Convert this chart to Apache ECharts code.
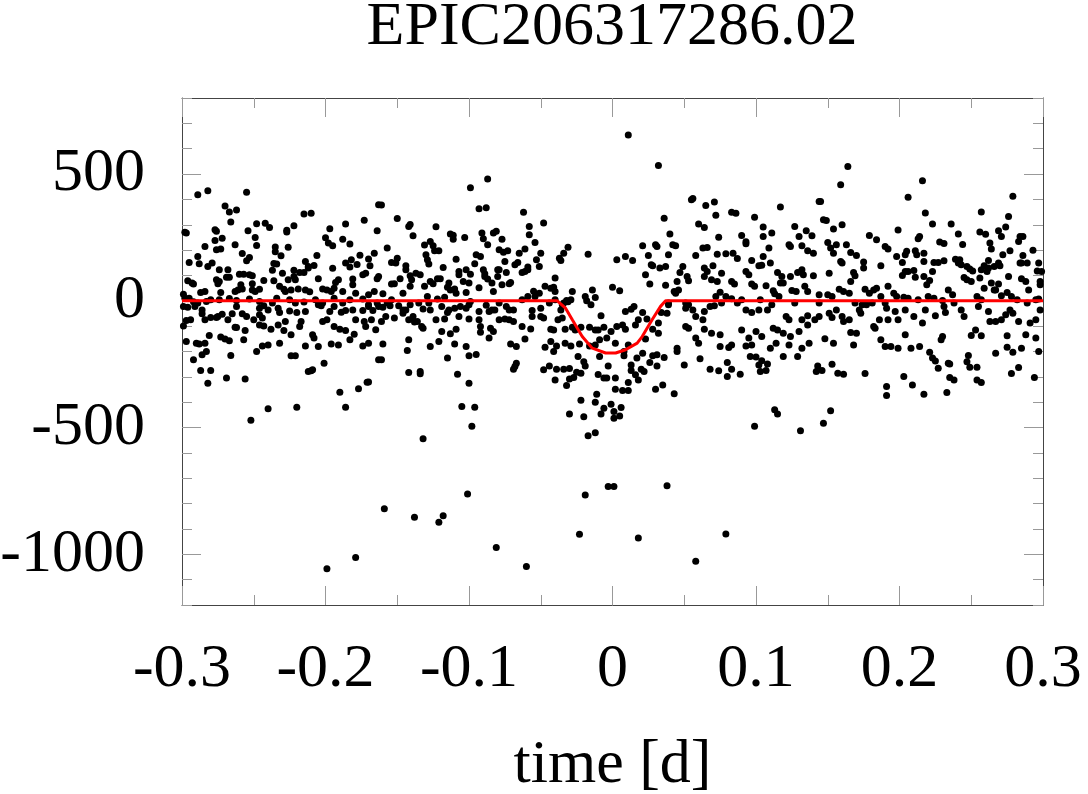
<!DOCTYPE html>
<html>
<head>
<meta charset="utf-8">
<script src="https://cdn.jsdelivr.net/npm/echarts@6/dist/echarts.min.js"></script>
<style>
  html, body { margin: 0; padding: 0; background: #fff; }
  #main { width: 1088px; height: 794px; }
</style>
</head>
<body>
<div id="main"></div>
<script>
// photometry points [time (d), flux], grouped by time range
var obsA = [
  [-0.289,418],[-0.282,434],[-0.255,428],[-0.270,374],[-0.267,350],[-0.262,358],[-0.266,311],[-0.248,304],[-0.242,306],[-0.239,289],[-0.222,296],[-0.215,342],[-0.210,345],[-0.298,270],[-0.297,267],[-0.277,280],[-0.276,274],[-0.254,276],[-0.249,250],[-0.227,278],[-0.227,271],[-0.197,284],[-0.186,303],[-0.173,318],[-0.164,276],[-0.163,379],
  [-0.272,247],[-0.277,238],[-0.284,214],[-0.263,221],[-0.248,218],[-0.235,212],[-0.226,211],[-0.235,193],[-0.231,178],[-0.276,201],[-0.273,204],[-0.258,187],[-0.253,171],[-0.255,158],[-0.289,175],[-0.295,151],[-0.288,146],[-0.282,135],[-0.279,149],[-0.200,249],[-0.198,228],[-0.195,217],[-0.188,243],[-0.183,224],[-0.206,179],[-0.214,155],[-0.212,135],[-0.208,139],[-0.236,147],[-0.234,145],[-0.237,121],[-0.230,109],[-0.222,121],[-0.195,128],[-0.186,149],[-0.183,133],[-0.182,162],[-0.178,143],[-0.176,180],[-0.170,165],[-0.169,138],[-0.166,188],[-0.164,87],
  [-0.274,122],[-0.268,122],[-0.260,105],[-0.257,105],[-0.253,103],[-0.251,99],[-0.269,93],[-0.267,93],[-0.276,83],[-0.274,76],[-0.275,67],[-0.296,79],[-0.293,70],[-0.292,66],[-0.259,63],[-0.251,67],[-0.251,43],[-0.249,37],[-0.243,80],[-0.236,79],[-0.229,46],[-0.226,83],[-0.222,96],[-0.221,83],[-0.218,112],[-0.215,112],[-0.212,129],[-0.205,87],[-0.202,47],[-0.199,43],[-0.196,37],[-0.194,50],[-0.193,72],[-0.191,83],[-0.181,86],[-0.181,63],[-0.174,103],[-0.172,109],[-0.163,96],[-0.287,33],[-0.284,37],[-0.273,33],[-0.263,37],[-0.261,43],[-0.258,47],[-0.246,46],[-0.232,57],[-0.228,37],[-0.224,43],[-0.219,47],[-0.214,43],[-0.211,36],[-0.188,37],[-0.179,30],[-0.170,24],[-0.166,37],[-0.299,26],
  [-0.298,10],[-0.295,10],[-0.292,-4],[-0.289,-9],[-0.283,-3],[-0.280,4],[-0.274,4],[-0.267,9],[-0.262,1],[-0.253,7],[-0.246,-3],[-0.237,-9],[-0.234,10],[-0.225,4],[-0.221,-9],[-0.215,-5],[-0.207,4],[-0.202,-9],[-0.194,10],[-0.188,-9],[-0.183,4],[-0.174,7],[-0.170,-16],[-0.164,-9],
  [-0.299,-22],[-0.296,-25],[-0.291,-22],[-0.286,-36],[-0.286,-51],[-0.280,-66],[-0.275,-62],[-0.272,-53],[-0.265,-51],[-0.262,-22],[-0.258,-51],[-0.255,-62],[-0.246,-29],[-0.243,-20],[-0.246,-55],[-0.244,-68],[-0.240,-36],[-0.233,-29],[-0.232,-46],[-0.225,-40],[-0.220,-46],[-0.214,-42],[-0.205,-16],[-0.203,-20],[-0.197,-42],[-0.194,-22],[-0.189,-45],[-0.186,-38],[-0.181,-36],[-0.174,-38],[-0.170,-22],[-0.167,-38],[-0.163,-22],
  [-0.297,-78],[-0.294,-75],[-0.299,-99],[-0.284,-75],[-0.276,-66],[-0.268,-75],[-0.263,-104],[-0.262,-105],[-0.256,-117],[-0.250,-75],[-0.246,-95],[-0.243,-99],[-0.238,-112],[-0.233,-95],[-0.228,-82],[-0.229,-117],[-0.224,-134],[-0.218,-101],[-0.217,-82],[-0.209,-134],[-0.208,-147],[-0.202,-82],[-0.199,-75],[-0.194,-101],[-0.190,-112],[-0.186,-117],[-0.180,-132],[-0.179,-75],[-0.173,-82],[-0.172,-101],[-0.168,-75],[-0.165,-114],
  [-0.297,-161],[-0.290,-167],[-0.288,-170],[-0.284,-167],[-0.281,-137],[-0.273,-143],[-0.270,-151],[-0.267,-158],[-0.257,-154],[-0.244,-178],[-0.240,-174],[-0.232,-167],[-0.214,-178],[-0.205,-180],[-0.196,-170],[-0.191,-174],[-0.183,-154],[-0.174,-178],[-0.170,-167],
  [-0.286,-213],[-0.283,-200],[-0.292,-233],[-0.287,-275],[-0.280,-275],[-0.282,-325],[-0.269,-305],[-0.266,-216],[-0.256,-308],[-0.248,-200],[-0.224,-217],[-0.221,-217],[-0.210,-276],[-0.209,-272],[-0.212,-279],[-0.201,-246],[-0.190,-361],[-0.186,-420],[-0.177,-347],[-0.171,-321],[-0.163,-233],[-0.240,-426],[-0.220,-420],[-0.252,-471],[-0.199,-1057],[-0.179,-1013]
];

var obsB = [
  [-0.087,480],[-0.099,446],[-0.093,363],[-0.088,367],[-0.161,378],[-0.062,349],[-0.150,325],[-0.142,293],[-0.141,301],[-0.139,257],[-0.123,292],[-0.048,307],[-0.058,293],[-0.058,261],[-0.113,264],[-0.111,259],[-0.111,243],[-0.103,250],[-0.091,267],[-0.090,245],[-0.083,267],[-0.081,274],[-0.087,221],[-0.077,243],[-0.079,201],[-0.076,192],[-0.073,197],[-0.065,188],[-0.061,204],[-0.054,230],[-0.053,162],[-0.050,188],[-0.051,135],[-0.037,168],[-0.036,159],[-0.034,188],[-0.031,211],[-0.017,184],[-0.157,208],[-0.131,220],[-0.127,234],[-0.125,217],[-0.124,197],[-0.121,197],[-0.130,182],[-0.128,145],[-0.129,162],[-0.118,131],[-0.109,164],[-0.096,146],[-0.095,182],[-0.092,175],[-0.090,122],[-0.089,107],[-0.080,122],[-0.079,122],[-0.075,155],[-0.074,112],[-0.068,142],[-0.066,151],[-0.063,112],[-0.059,122],[-0.154,151],[-0.151,149],[-0.150,168],[-0.144,138],[-0.144,122],
  [-0.154,66],[-0.152,67],[-0.148,87],[-0.146,30],[-0.141,99],[-0.140,83],[-0.141,57],[-0.137,109],[-0.134,103],[-0.131,57],[-0.127,76],[-0.125,67],[-0.122,87],[-0.120,87],[-0.114,70],[-0.115,53],[-0.113,43],[-0.110,47],[-0.109,30],[-0.107,103],[-0.107,116],[-0.102,122],[-0.104,76],[-0.100,70],[-0.102,33],[-0.099,105],[-0.093,51],[-0.089,96],[-0.087,86],[-0.084,70],[-0.083,37],[-0.080,96],[-0.077,63],[-0.072,67],[-0.071,72],[-0.061,116],[-0.059,133],[-0.055,38],[-0.051,30],[-0.047,57],[-0.043,50],[-0.041,53],[-0.040,90],[-0.040,37],[-0.035,-16],[-0.032,1],[-0.028,37],[-0.019,17],[-0.018,0],[-0.014,43],[-0.015,-16],[-0.160,28],[-0.155,-20],[-0.154,4],
  [-0.160,-25],[-0.157,-9],[-0.149,-20],[-0.146,-36],[-0.144,-36],[-0.141,-16],[-0.135,-9],[-0.132,-32],[-0.129,17],[-0.128,-9],[-0.122,7],[-0.119,-22],[-0.117,14],[-0.114,-36],[-0.110,-29],[-0.106,-22],[-0.102,-29],[-0.100,-16],[-0.099,-3],[-0.093,-42],[-0.088,-18],[-0.084,-36],[-0.082,-36],[-0.079,-9],[-0.074,-22],[-0.072,-36],[-0.069,-36],[-0.063,4],[-0.059,17],[-0.056,-38],[-0.054,17],[-0.050,-29],[-0.044,-9],[-0.040,4],[-0.036,-36],[-0.034,-9],[-0.031,-4],[-0.029,4],
  [-0.161,-82],[-0.158,-62],[-0.152,-68],[-0.146,-49],[-0.142,-75],[-0.139,-62],[-0.138,-84],[-0.136,-82],[-0.133,-101],[-0.127,-36],[-0.123,-75],[-0.117,-72],[-0.115,-46],[-0.107,-62],[-0.100,-72],[-0.093,-75],[-0.092,-101],[-0.086,-42],[-0.085,-108],[-0.079,-75],[-0.075,-72],[-0.072,-75],[-0.069,-82],[-0.063,-101],[-0.057,-111],[-0.056,-62],[-0.050,-62],[-0.048,-68],[-0.043,-112],[-0.041,-115],[-0.038,-75],[-0.035,-68],[-0.033,-112],[-0.028,-104],[-0.026,-115],[-0.022,-104],[-0.016,-104],[-0.012,-115],
  [-0.160,-170],[-0.142,-154],[-0.132,-108],[-0.127,-180],[-0.121,-161],[-0.119,-121],[-0.113,-130],[-0.110,-170],[-0.109,-112],[-0.102,-180],[-0.092,-124],[-0.086,-147],[-0.083,-121],[-0.071,-170],[-0.067,-180],[-0.061,-151],[-0.047,-183],[-0.043,-161],[-0.039,-178],[-0.033,-167],[-0.029,-178],[-0.023,-170],[-0.016,-178],[-0.012,-174],
  [-0.161,-233],[-0.143,-196],[-0.142,-283],[-0.134,-279],[-0.134,-288],[-0.115,-226],[-0.108,-290],[-0.100,-217],[-0.095,-212],[-0.100,-325],[-0.105,-417],[-0.096,-420],[-0.098,-495],[-0.132,-544],[-0.101,-762],[-0.159,-820],[-0.138,-854],[-0.121,-874],[-0.118,-848],[-0.081,-973],[-0.060,-1048],[-0.069,-270],[-0.067,-246],[-0.068,-259],[-0.048,-272],[-0.044,-257],[-0.039,-270],[-0.034,-270],[-0.030,-267],[-0.040,-312],[-0.030,-308],[-0.027,-303],[-0.032,-334],[-0.025,-282],[-0.022,-286],[-0.024,-220],[-0.020,-240],[-0.019,-257],[-0.022,-392],[-0.020,-457],[-0.030,-447],[-0.017,-532],[-0.012,-521],[-0.012,-400],[-0.011,-369],[-0.010,-291],[-0.019,-766],[-0.023,-921],[-0.041,-200],[-0.170,-320]
];

var obsC = [
  [0.011,654],[0.032,534],[0.055,399],[0.056,404],[0.065,376],[0.071,390],[0.072,337],[0.036,326],[0.083,349],[0.086,345],[0.099,330],[0.117,370],[0.144,392],[0.060,303],[0.064,289],[0.040,264],[0.105,291],[0.111,267],[0.127,293],[0.135,276],[0.130,254],[0.139,257],[0.021,217],[0.030,221],[0.031,214],[0.042,221],[0.044,217],[0.090,258],[0.093,233],[0.093,225],[0.074,251],[0.066,210],[0.063,208],[0.025,179],[0.039,182],[0.058,179],[0.073,184],[0.079,186],[0.084,188],[0.087,167],[0.105,254],[0.109,208],[0.105,175],[0.123,221],[0.124,214],[0.132,217],[0.136,197],[0.140,188],[0.003,162],[0.009,175],[0.014,159],[0.027,142],[0.028,138],[0.033,129],[0.037,135],[0.049,135],[0.064,129],[0.066,116],[0.070,138],[0.076,109],[0.097,159],[0.102,138],[0.104,140],[0.110,149],[0.115,112],[0.118,96],[0.124,96],[0.129,112],[0.132,122],[0.133,103],[0.140,99],
  [0.000,53],[0.005,40],[0.023,103],[0.026,66],[0.037,61],[0.045,76],[0.047,112],[0.052,96],[0.053,79],[0.064,96],[0.069,83],[0.073,76],[0.075,34],[0.083,76],[0.085,66],[0.093,116],[0.095,103],[0.097,66],[0.099,57],[0.107,59],[0.112,40],[0.113,28],[0.117,70],[0.119,70],[0.125,41],[0.128,37],[0.134,57],[0.136,37],[0.144,24],
  [-0.012,13],[0.009,-42],[0.013,-33],[0.015,-22],[0.021,-46],[0.018,-75],[0.024,-72],[-0.008,-59],[-0.010,-115],[-0.006,-104],[-0.001,-121],[0.003,-101],[0.007,-95],[0.009,-112],[0.016,-95],[0.028,-112],[0.032,-88],[0.032,-128],[-0.009,-154],[-0.004,-147],[0.002,-167],[0.011,-174],[0.023,-151],[0.039,-9],[0.043,37],[0.044,30],[0.046,43],[0.051,-9],[0.051,-29],[0.053,-16],[0.056,-36],[0.058,-62],[0.063,-75],[0.064,-42],[0.068,-22],[0.072,17],[0.071,-20],[0.076,-9],[0.079,17],[0.083,8],[0.087,-9],[0.090,4],[0.093,-36],[0.097,-46],[0.102,-36],[0.103,4],[0.108,-36],[0.111,-16],[0.116,17],[0.121,-62],[0.123,-75],[0.127,-9],[0.132,-75],[0.136,-59],[0.144,-9],[0.034,-46],[0.039,-16],[0.038,-49],
  [0.051,-101],[0.053,-108],[0.058,-147],[0.060,-167],[0.064,-112],[0.069,-128],[0.075,-134],[0.083,-174],[0.090,-115],[0.095,-147],[0.100,-121],[0.104,-141],[0.112,-108],[0.115,-115],[0.119,-128],[0.124,-141],[0.130,-121],[0.136,-95],[0.137,-167],[0.075,-180],[0.081,-184],[0.093,-178],[0.097,-174],[0.110,-187],[0.114,-167],[0.123,-174],[0.132,-187],[0.045,-187],
  [-0.003,-257],[-0.009,-220],[-0.006,-305],[-0.004,-305],[0.002,-305],[0.002,-349],[0.007,-354],[0.011,-354],[0.011,-322],[-0.006,-424],[-0.008,-447],[-0.001,-408],[0.001,-437],[0.005,-454],[0.001,-463],[0.006,-421],[0.008,-217],[0.013,-253],[0.013,-275],[0.016,-292],[0.018,-312],[0.020,-270],[0.022,-279],[0.026,-243],[0.028,-217],[0.031,-213],[0.031,-257],[0.036,-224],[0.045,-200],[0.050,-253],[0.035,-332],[0.030,-349],[0.043,-367],[0.061,-229],[0.068,-270],[0.074,-276],[0.080,-243],[0.083,-270],[0.080,-299],[0.089,-290],[0.096,-220],[0.100,-222],[0.102,-253],[0.104,-236],[0.103,-279],[0.107,-275],[0.108,-249],[0.119,-220],[0.129,-220],[0.143,-257],[0.142,-279],[0.099,-495],[0.113,-430],[0.115,-447],[0.131,-513],[-0.003,-733],[0.001,-733],[0.038,-730],[0.018,-936],[0.079,-920],[0.058,-1027],[0.017,-226],[0.021,-207],[0.008,-200]
];

var obsD = [
  [0.164,530],[0.159,458],[0.216,474],[0.145,392],[0.206,408],[0.279,412],[0.147,320],[0.149,317],[0.218,346],[0.257,350],[0.160,300],[0.154,283],[0.223,303],[0.236,303],[0.276,333],[0.274,291],[0.199,279],[0.179,258],[0.184,241],[0.190,214],[0.192,204],[0.214,254],[0.213,245],[0.150,230],[0.156,221],[0.154,188],[0.166,191],[0.170,179],[0.163,221],[0.228,232],[0.231,226],[0.241,264],[0.244,222],[0.256,271],[0.260,263],[0.263,228],[0.264,204],[0.269,276],[0.271,254],[0.272,182],[0.277,197],[0.284,254],[0.286,254],[0.283,234],[0.293,199],[0.286,179],[0.152,208],[0.159,155],[0.160,149],[0.175,153],[0.175,129],[0.187,138],[0.198,175],[0.202,151],[0.204,182],[0.205,195],[0.211,197],[0.217,188],[0.212,182],[0.217,155],[0.224,151],[0.227,151],[0.231,158],[0.223,116],[0.217,96],[0.239,164],[0.241,149],[0.242,162],[0.243,142],[0.247,135],[0.249,125],[0.251,118],[0.257,122],[0.259,138],[0.262,159],[0.262,129],[0.266,135],[0.269,149],[0.270,138],[0.284,149],[0.285,149],[0.289,149],[0.297,149],[0.296,118],[0.299,116],[0.151,109],[0.168,112],[0.166,76],[0.169,99],[0.202,100],[0.204,116],[0.206,116],[0.210,120],[0.211,93],[0.219,63],[0.221,80],[0.245,92],[0.247,83],[0.250,76],[0.256,90],[0.261,116],[0.259,50],[0.264,70],[0.269,66],[0.267,43],[0.276,96],[0.285,87],[0.288,76],[0.290,43],[0.298,76],[0.298,63],
  [0.150,24],[0.153,17],[0.158,46],[0.161,37],[0.165,30],[0.176,46],[0.179,30],[0.182,43],[0.184,50],[0.187,17],[0.192,57],[0.196,30],[0.198,17],[0.203,14],[0.206,10],[0.213,4],[0.220,17],[0.224,10],[0.230,1],[0.234,43],[0.237,24],[0.254,17],[0.257,4],[0.266,43],[0.271,20],[0.275,33],[0.278,17],[0.282,4],[0.289,-9],[0.295,4],[0.297,7],[0.169,-9],[0.174,-16],[0.181,-9],[0.190,-9],[0.144,-62],[0.141,-75],[0.151,-49],[0.153,-66],[0.156,-36],[0.160,-62],[0.165,-75],[0.161,-82],[0.172,-36],[0.173,-49],[0.177,-16],[0.182,-101],[0.183,-108],[0.186,-75],[0.191,-29],[0.192,-75],[0.197,-42],[0.199,-75],[0.204,-36],[0.210,-62],[0.216,-88],[0.218,-36],[0.225,-59],[0.231,-22],[0.232,-46],[0.238,-9],[0.243,-36],[0.245,-62],[0.255,-22],[0.262,-42],[0.263,-82],[0.267,-82],[0.271,-75],[0.274,-55],[0.277,-36],[0.279,-49],[0.283,-82],[0.291,-88],[0.295,-75],[0.298,-36],
  [0.148,-150],[0.154,-167],[0.166,-125],[0.168,-174],[0.170,-128],[0.187,-154],[0.190,-180],[0.194,-180],[0.199,-187],[0.204,-134],[0.208,-187],[0.214,-180],[0.230,-141],[0.229,-154],[0.250,-137],[0.253,-115],[0.257,-138],[0.275,-138],[0.288,-134],[0.295,-147],[0.275,-183],[0.285,-187],
  [0.146,-275],[0.153,-250],[0.157,-286],[0.161,-290],[0.176,-287],[0.191,-338],[0.191,-374],[0.152,-434],[0.147,-483],[0.203,-299],[0.209,-332],[0.217,-369],[0.221,-203],[0.223,-226],[0.225,-237],[0.227,-266],[0.234,-246],[0.235,-249],[0.235,-303],[0.238,-312],[0.233,-362],[0.247,-240],[0.248,-216],[0.249,-262],[0.254,-262],[0.254,-312],[0.257,-322],[0.267,-207],[0.279,-203],[0.278,-287],[0.283,-263],[0.294,-303],[0.297,-200]
];

// transit model (red curve)
var modelTime = [-0.3, -0.0385, -0.0327, -0.028, -0.0211, -0.0141, -0.0048, 0.0022, 0.0091, 0.0172, 0.0207, 0.0276, 0.0335, 0.037, 0.3];
var modelFlux = [0, 0, -29, -75, -141, -187, -206, -206, -193, -167, -141, -75, -22, 0, 0];

var font = "'Liberation Serif','Times New Roman',serif";
var frameColor = '#444';
var tickColor = '#999';

var chart = echarts.init(document.getElementById('main'));

var modelData = modelTime.map(function (t, i) { return [t, modelFlux[i]]; });
var obsData = obsA.concat(obsB, obsC, obsD);

function xAxisDef(pos, step, len, labels) {
  return {
    gridIndex: 0, type: 'value', position: pos,
    min: -0.3, max: 0.3, interval: step,
    axisLine: { show: len > 15, onZero: false, lineStyle: { color: frameColor, width: 1 } },
    axisTick: { inside: true, length: len, lineStyle: { color: tickColor, width: 1 } },
    axisLabel: labels ? {
      fontFamily: font, fontSize: 62, color: '#000', margin: 34,
      formatter: function (v) { var r = Math.round(v * 10) / 10; return r === 0 ? '0' : String(r); }
    } : { show: false },
    splitLine: { show: false }
  };
}

function yAxisDef(grid, pos, min, max, step, len, labels) {
  return {
    gridIndex: grid, type: 'value', position: pos,
    min: min, max: max, interval: step,
    axisLine: { show: grid === 0, onZero: false, lineStyle: { color: frameColor, width: 1 } },
    axisTick: { inside: true, length: len, lineStyle: { color: tickColor, width: 1 } },
    axisLabel: labels ? {
      fontFamily: font, fontSize: 62, color: '#000', margin: 37,
      formatter: function (v) { return v % 500 === 0 ? String(v) : ''; }
    } : { show: false },
    splitLine: { show: false }
  };
}

var xBottom = xAxisDef('bottom', 0.1, 19, true);
xBottom.name = 'time [d]';
xBottom.nameLocation = 'middle';
xBottom.nameGap = 130;
xBottom.nameTextStyle = { fontFamily: font, fontSize: 62, color: '#000' };

option = {
  animation: false,
  backgroundColor: '#fff',
  title: {
    text: 'EPIC206317286.02',
    left: 612, top: -3, textAlign: 'center', padding: 0,
    textStyle: { fontFamily: font, fontSize: 62, fontWeight: 'normal', color: '#000' }
  },
  grid: [
    { left: 182, top: 98, width: 861, height: 507, containLabel: false, outerBoundsMode: 'none' },
    { left: 182, top: 174.05, width: 861, height: 380.25, containLabel: false, outerBoundsMode: 'none' }
  ],
  xAxis: [
    xBottom,
    xAxisDef('bottom', 0.05, 10, false),
    xAxisDef('top', 0.1, 19, false),
    xAxisDef('top', 0.05, 10, false),
    { gridIndex: 1, type: 'value', min: -0.3, max: 0.3, show: false }
  ],
  yAxis: [
    yAxisDef(0, 'left', -1200, 800, 100, 10, true),
    yAxisDef(0, 'right', -1200, 800, 100, 10, false),
    yAxisDef(1, 'left', -1000, 500, 500, 19, false),
    yAxisDef(1, 'right', -1000, 500, 500, 19, false)
  ],
  series: [
    {
      type: 'scatter', xAxisIndex: 0, yAxisIndex: 0,
      data: obsData, symbolSize: 7,
      itemStyle: { color: '#000', opacity: 1 }, z: 2
    },
    {
      type: 'line', xAxisIndex: 0, yAxisIndex: 0,
      data: modelData, showSymbol: false,
      lineStyle: { color: '#ff0000', width: 3 }, z: 3
    }
  ]
};

chart.setOption(option);
</script>
</body>
</html>
